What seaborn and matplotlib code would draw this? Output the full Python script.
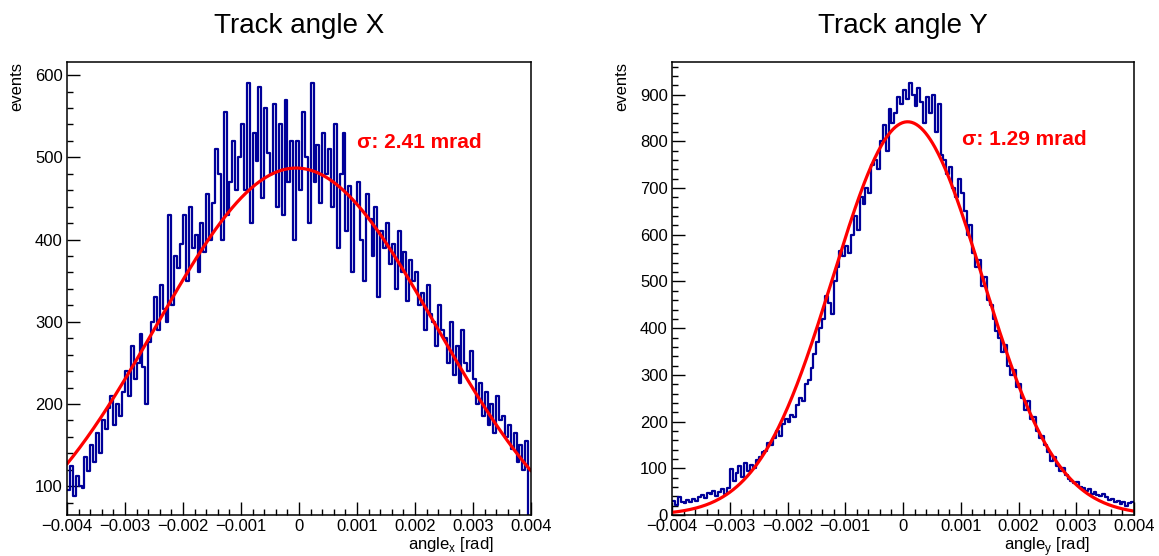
import numpy as np
import pandas as pd
import matplotlib
matplotlib.use("Agg")
import matplotlib.pyplot as plt
from matplotlib.ticker import MultipleLocator, FuncFormatter
import seaborn as sns

# ---------------- data ----------------
x_min, x_max, n_bins = -0.004, 0.004, 160

counts_x = [
    95, 125, 88, 112, 100, 98, 135, 118, 150, 130,
    165, 140, 180, 170, 195, 210, 175, 200, 185, 215,
    240, 210, 270, 230, 250, 285, 245, 200, 275, 300,
    330, 290, 345, 315, 300, 430, 320, 380, 365, 395,
    430, 350, 440, 390, 405, 360, 420, 385, 455, 400,
    445, 510, 480, 400, 555, 430, 470, 520, 460, 500,
    540, 460, 590, 420, 530, 495, 585, 450, 560, 505,
    480, 565, 440, 540, 430, 570, 470, 520, 400, 520,
    460, 555, 500, 420, 590, 470, 515, 445, 530, 480,
    510, 440, 540, 390, 480, 530, 410, 465, 360, 445,
    470, 400, 350, 455, 425, 380, 440, 330, 410, 390,
    420, 370, 395, 340, 410, 360, 385, 325, 375, 350,
    360, 320, 335, 290, 345, 310, 300, 270, 320, 290,
    280, 250, 300, 235, 270, 225, 290, 250, 240, 265,
    230, 200, 225, 185, 215, 175, 200, 165, 210, 180,
    185, 160, 175, 145, 165, 130, 150, 120, 155, 60,
]

counts_y = [
    30, 22, 38, 28, 25, 33, 27, 35, 30, 38,
    42, 36, 48, 45, 52, 40, 50, 55, 46, 58,
    98, 72, 90, 105, 82, 112, 95, 108, 100, 118,
    125, 135, 138, 155, 150, 165, 180, 170, 195, 205,
    200, 215, 210, 235, 250, 245, 280, 290, 315, 345,
    370, 400, 420, 470, 455, 430, 500, 530, 565, 555,
    575, 560, 600, 640, 610, 680, 665, 700, 690, 750,
    760, 740, 800, 835, 780, 870, 840, 860, 895, 880,
    910, 890, 925, 900, 875, 915, 885, 840, 895, 860,
    900, 820, 880, 770, 760, 730, 745, 700, 680, 720,
    690, 650, 600, 620, 560, 530, 545, 490, 510, 460,
    450, 420, 395, 380, 350, 365, 320, 300, 310, 275,
    280, 250, 225, 245, 205, 210, 180, 165, 170, 150,
    135, 115, 125, 105, 95, 100, 85, 78, 72, 68,
    70, 60, 58, 52, 55, 45, 50, 42, 40, 44,
    38, 32, 35, 28, 30, 24, 27, 20, 25, 28,
]

# Gaussian fit parameters: amplitude, mean [rad], sigma [rad]
fit_x = [487.0, -0.00005, 0.00241]
fit_y = [842.0, 0.00008, 0.00129]

titles = ["Track angle X", "Track angle Y"]
sigma_labels = ["\u03c3: 2.41 mrad", "\u03c3: 1.29 mrad"]
xlabels = [r"angle$_{\mathregular{x}}$ [rad]", r"angle$_{\mathregular{y}}$ [rad]"]
ylims = [(65, 616), (0, 970)]
xticks = [-0.004, -0.003, -0.002, -0.001, 0, 0.001, 0.002, 0.003, 0.004]

# ---------------- style ----------------
sns.set_theme(style="white")
plt.rcParams["font.family"] = ["Liberation Sans", "DejaVu Sans"]
plt.rcParams["mathtext.fontset"] = "custom"
plt.rcParams["mathtext.rm"] = "Liberation Sans"
plt.rcParams["text.color"] = "black"
plt.rcParams["axes.labelcolor"] = "black"

HIST_COLOR = "#000099"
FIT_COLOR = "#ff0000"

fig = plt.figure(figsize=(11.59, 5.56), dpi=100)
axes_pos = [
    [67 / 1159, 1 - 515 / 556, (531 - 67) / 1159, (515 - 62) / 556],
    [672 / 1159, 1 - 515 / 556, (1134 - 672) / 1159, (515 - 62) / 556],
]

bin_w = (x_max - x_min) / n_bins
centers = x_min + bin_w * (np.arange(n_bins) + 0.5)


def tick_fmt(v, pos):
    if abs(v) < 1e-12:
        return "0"
    s = f"{v:.3f}"
    return s.replace("-", "\u2212")


for i, (counts, fit) in enumerate([(counts_x, fit_x), (counts_y, fit_y)]):
    ax = fig.add_axes(axes_pos[i])
    df = pd.DataFrame({"angle": centers, "events": counts})
    sns.histplot(data=df, x="angle", weights="events", bins=n_bins,
                 binrange=(x_min, x_max),
                 element="step", fill=False, color=HIST_COLOR,
                 linewidth=1.6, ax=ax)
    xf = np.linspace(x_min, x_max, 400)
    amp, mu, sig = fit
    yf = amp * np.exp(-0.5 * ((xf - mu) / sig) ** 2)
    sns.lineplot(x=xf, y=yf, color=FIT_COLOR, linewidth=2.3, ax=ax)

    ax.set_xlim(x_min, x_max)
    ax.set_ylim(*ylims[i])
    ax.set_xticks(xticks)
    ax.xaxis.set_major_formatter(FuncFormatter(tick_fmt))
    ax.xaxis.set_minor_locator(MultipleLocator(0.0002))
    ax.yaxis.set_major_locator(MultipleLocator(100))
    ax.yaxis.set_minor_locator(MultipleLocator(20))
    ax.tick_params(which="both", direction="in", top=False, right=False,
                   bottom=True, left=True, labelsize=12, colors="black",
                   width=1.0)
    ax.tick_params(which="major", length=9.5, pad=3)
    ax.tick_params(which="minor", length=4.5)
    for sp in ax.spines.values():
        sp.set_color("black")
        sp.set_linewidth(1.1)

    ax.set_title(titles[i], fontsize=20, pad=21, color="black")
    ax.set_ylabel("events", fontsize=12, loc="top")
    ax.yaxis.set_label_coords(-0.092, 1.0)
    ax.set_xlabel(xlabels[i], fontsize=12, loc="right")
    ax.xaxis.set_label_coords(0.92 if i == 0 else 0.905, -0.045)
    ax.xaxis.label.set_va("top")

    tx = 0.0010 if i == 0 else 0.00102
    ty = 512 if i == 0 else 793
    ax.text(tx, ty, sigma_labels[i], color=FIT_COLOR, fontsize=15,
            fontweight="bold", va="baseline", ha="left")

fig.savefig("out.png", dpi=100)
